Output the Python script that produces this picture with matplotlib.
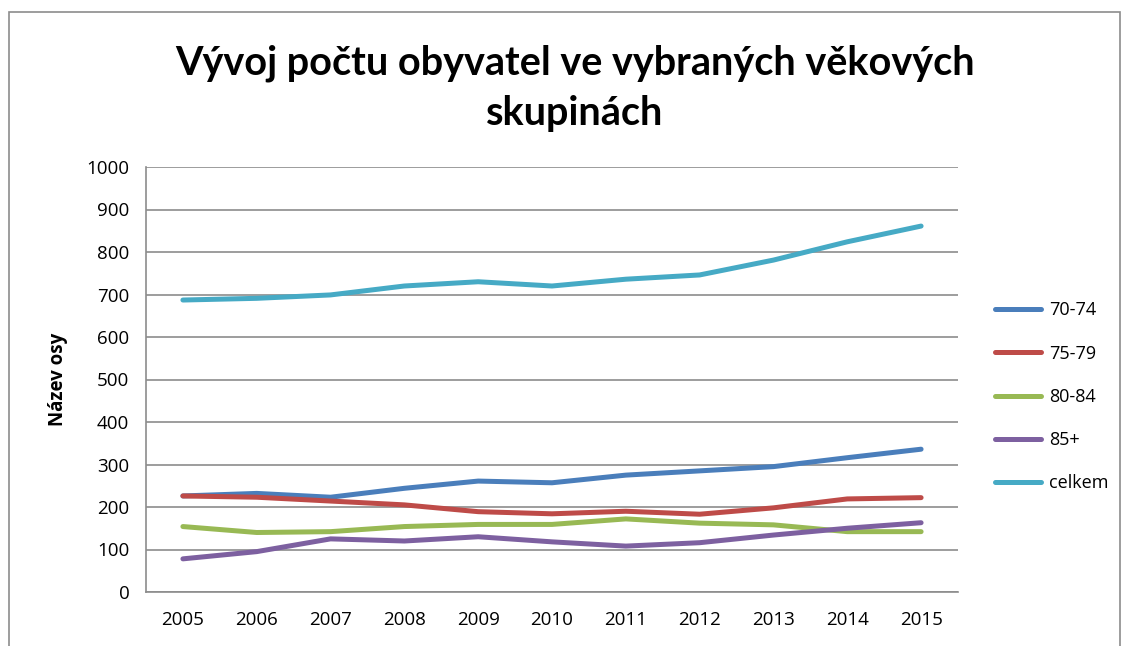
import matplotlib
matplotlib.use('Agg')
import matplotlib.pyplot as plt
from matplotlib.patches import Rectangle

# data
years = ['2005', '2006', '2007', '2008', '2009', '2010', '2011', '2012', '2013', '2014', '2015']
v70_74 = [226, 232, 223, 244, 261, 257, 275, 285, 295, 316, 336]
v75_79 = [226, 223, 214, 205, 189, 184, 190, 183, 198, 219, 222]
v80_84 = [154, 140, 142, 154, 159, 159, 172, 162, 158, 142, 142]
v85 = [78, 95, 125, 120, 130, 118, 108, 116, 134, 150, 163]
celkem = [687, 691, 699, 720, 730, 720, 736, 746, 781, 824, 861]

series = [('70-74', v70_74, '#4A7EBB'),
          ('75-79', v75_79, '#BE4B48'),
          ('80-84', v80_84, '#98B954'),
          ('85+', v85, '#7D60A0'),
          ('celkem', celkem, '#46AAC5')]

plt.rcParams['font.family'] = ['Open Sans', 'DejaVu Sans']

fig = plt.figure(figsize=(11.28, 6.46), dpi=100)
ax = fig.add_axes([146 / 1128, 1 - 592 / 646, 812 / 1128, 425 / 646])

x = list(range(len(years)))
for name, vals, col in series:
    ax.plot(x, vals, color=col, lw=3.6, solid_capstyle='round',
            solid_joinstyle='round', label=name)

ax.set_xlim(-0.5, len(years) - 0.5)
ax.set_ylim(0, 1000)
ax.set_yticks(range(0, 1001, 100))
ax.set_xticks(x)
ax.set_xticklabels(years)
ax.tick_params(axis='both', length=0, labelsize=13.5, colors='black')
ax.tick_params(axis='x', pad=14)
ax.tick_params(axis='y', pad=12)
ax.grid(axis='y', color='#8c8c8c', lw=1.2)
ax.set_axisbelow(True)
for s in ['top', 'right']:
    ax.spines[s].set_visible(False)
for s in ['left', 'bottom']:
    ax.spines[s].set_color('#8c8c8c')
    ax.spines[s].set_linewidth(1.2)

ax.set_ylabel('Název osy', fontsize=13.5, fontweight='bold', labelpad=13)

fig.text(575 / 1128, 1 - 88 / 646,
         'Vývoj počtu obyvatel ve vybraných věkových\nskupinách',
         ha='center', va='center', fontsize=28.5, fontweight='bold',
         linespacing=1.45, family=['Lato', 'DejaVu Sans'])

leg = ax.legend(loc='center left', bbox_to_anchor=(1.025, 0.459), frameon=False,
                fontsize=13, handlelength=2.6, labelspacing=1.4, handletextpad=0.4)

fig.patches.append(Rectangle((9 / 1128, -0.1), 1111 / 1128, 1.1 - 12 / 646,
                             transform=fig.transFigure, fill=False,
                             edgecolor='#8c8c8c', lw=1.2))

fig.savefig('out.png', dpi=100)
